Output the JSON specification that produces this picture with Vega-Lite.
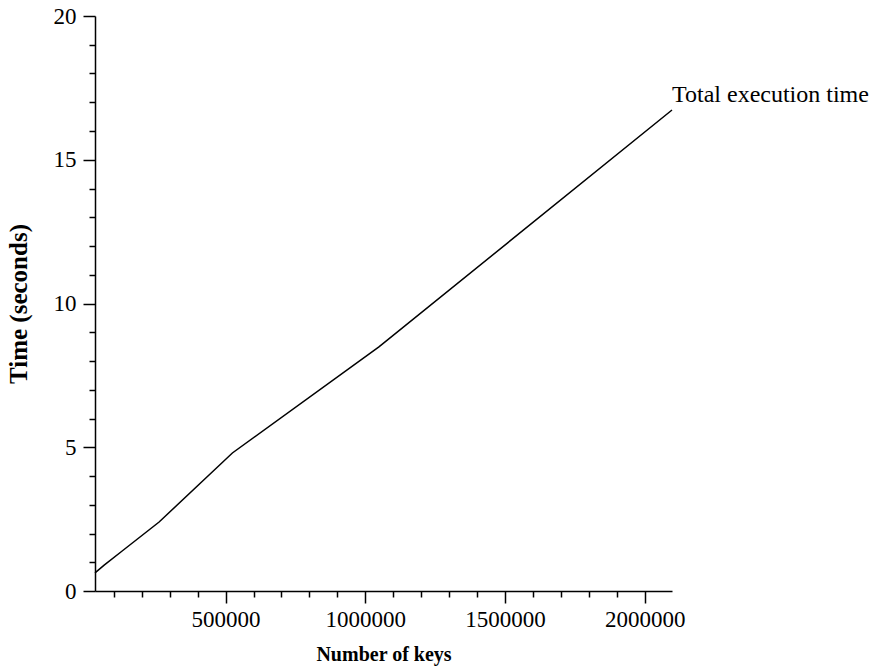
{
  "$schema": "https://vega.github.io/schema/vega-lite/v6.json",
  "width": 577,
  "height": 575,
  "autosize": {"type": "none"},
  "padding": {"left": 95, "top": 16, "right": 200, "bottom": 78},
  "background": "white",
  "config": {
    "view": {"stroke": null},
    "font": "Liberation Serif",
    "axis": {
      "domainColor": "black",
      "domainWidth": 1.5,
      "tickColor": "black",
      "tickWidth": 1.5,
      "labelColor": "black",
      "labelFont": "Liberation Serif",
      "labelFontSize": 23,
      "titleFont": "Liberation Serif",
      "titleFontSize": 20,
      "titleFontWeight": "bold",
      "titleColor": "black",
      "grid": false,
      "labelOverlap": false,
      "labelFlush": false
    }
  },
  "data": {
    "values": [
      {"keys": 32768, "time": 0.63},
      {"keys": 65536, "time": 0.9},
      {"keys": 131072, "time": 1.4},
      {"keys": 262144, "time": 2.4},
      {"keys": 524288, "time": 4.8},
      {"keys": 1048576, "time": 8.49},
      {"keys": 2097152, "time": 16.73}
    ]
  },
  "encoding": {
    "x": {
      "field": "keys",
      "type": "quantitative",
      "scale": {"domain": [32768, 2097152], "nice": false, "zero": false},
      "axis": {
        "title": "Number of keys",
        "values": [100000, 200000, 300000, 400000, 500000, 600000, 700000, 800000, 900000, 1000000, 1100000, 1200000, 1300000, 1400000, 1500000, 1600000, 1700000, 1800000, 1900000, 2000000],
        "format": "d",
        "labelExpr": "datum.value % 500000 === 0 ? datum.label : ''",
        "tickSize": {"condition": {"test": "datum.value % 500000 === 0", "value": 12}, "value": 6},
        "labelPadding": 5,
        "titlePadding": 13
      }
    },
    "y": {
      "field": "time",
      "type": "quantitative",
      "scale": {"domain": [0, 20], "nice": false},
      "axis": {
        "title": "Time (seconds)",
        "titleFontSize": 25,
        "values": [0, 1, 2, 3, 4, 5, 6, 7, 8, 9, 10, 11, 12, 13, 14, 15, 16, 17, 18, 19, 20],
        "labelExpr": "datum.value % 5 === 0 ? datum.label : ''",
        "tickSize": {"condition": {"test": "datum.value % 5 === 0", "value": 12}, "value": 6},
        "labelPadding": 7,
        "titlePadding": 22
      }
    }
  },
  "layer": [
    {
      "mark": {"type": "line", "color": "black", "strokeWidth": 1.5}
    },
    {
      "transform": [{"filter": "datum.keys == 2097152"}],
      "mark": {"type": "text", "align": "left", "baseline": "alphabetic", "dx": 0, "dy": -8, "fontSize": 24, "font": "Liberation Serif", "color": "black"},
      "encoding": {"text": {"value": "Total execution time"}}
    }
  ]
}
